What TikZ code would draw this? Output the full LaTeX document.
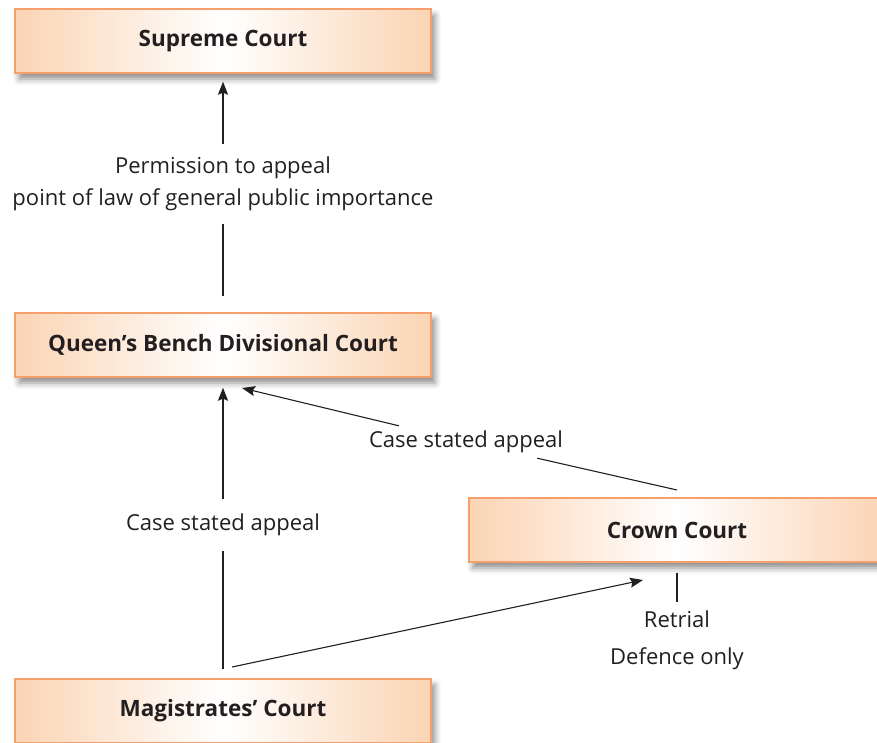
\documentclass[tikz,border=0pt]{standalone}
\usepackage{fontspec}
\setmainfont{Open Sans}
\usetikzlibrary{arrows.meta,shadows.blur,calc}
\definecolor{courtedge}{RGB}{245,160,108}
\definecolor{courtfill}{RGB}{251,212,180}
\definecolor{ink}{RGB}{35,31,32}
\tikzset{
  court/.style={draw=courtedge, line width=1.3pt, minimum width=416pt, minimum height=64pt,
    inner sep=0pt, left color=courtfill, right color=courtfill, middle color=white,
    font=\fontsize{22.5}{26}\selectfont\bfseries, text=ink,
    blur shadow={shadow xshift=4pt, shadow yshift=-6pt, shadow blur radius=6pt, shadow opacity=45}},
  note/.style={font=\fontsize{22}{32}\selectfont, text=ink, align=center, inner sep=0pt},
  link/.style={draw=ink, line width=1.8pt},
  thin/.style={draw=ink, line width=1.1pt},
  tip/.style={-{Stealth[length=13pt,width=10pt,inset=2pt]}}
}
\begin{document}
\begin{tikzpicture}[x=1pt,y=-1pt]
\useasboundingbox (0,0) rectangle (877,742);

% courts
\node[court] (sup)   at (223,41)  {Supreme Court};
\node[court] (qbd)   at (223,345) {Queen’s Bench Divisional Court};
\node[court] (crown) at (677,530) {Crown Court};
\node[court] (mag)   at (223,711) {Magistrates’ Court};

% labels on the routes of appeal
\node[note, minimum height=80pt] (perm) at (223,184)
  {Permission to appeal\\point of law of general public importance};
\node[note, minimum height=52pt] (csa1) at (223,525) {Case stated appeal};
\node[note, inner xsep=0pt, inner ysep=5pt] (csa2) at (466,442) {Case stated appeal};
\node[note, font=\fontsize{22}{37}\selectfont] (ret) at (677,640) {Retrial\\Defence only};

% free ends of the slanted routes
\coordinate (crownout) at (677,490);
\coordinate (qbdin)    at (242,388);
\coordinate (magout)   at (232,667);
\coordinate (crownin)  at (643,580);

% Queen's Bench to Supreme Court
\draw[link] (qbd.north) ++(0,-16) -- (perm.south);
\draw[link, tip, shorten >=8pt] (perm.north) -- (sup.south);

% Magistrates to Queen's Bench
\draw[link, shorten <=9pt] (mag.north) -- (csa1.south);
\draw[link, tip, shorten >=10pt] (csa1.north) -- (qbd.south);

% Crown Court to Queen's Bench
\draw[thin] (crownout) -- (csa2);
\draw[thin, tip] (csa2) -- (qbdin);

% Magistrates to Crown Court
\draw[thin, tip] (magout) -- (crownin);

% retrial
\draw[link, shorten <=10pt, shorten >=8pt] (crown.south) -- (ret.north);
\end{tikzpicture}
\end{document}
